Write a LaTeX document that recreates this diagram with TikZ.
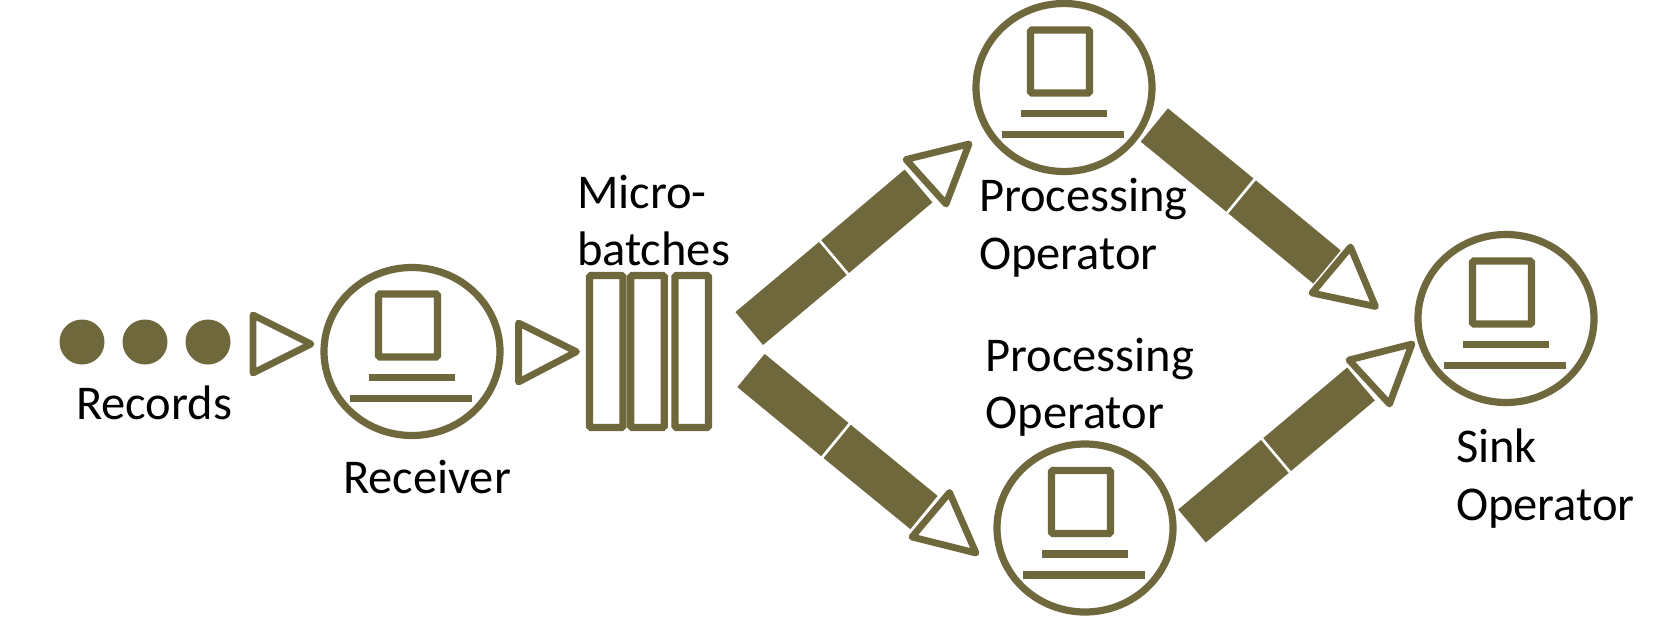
\documentclass[tikz,border=0pt]{standalone}
\usepackage{fontspec}
\setmainfont{Carlito}
\usetikzlibrary{shapes.geometric}
\definecolor{olive}{HTML}{6F683D}
\tikzset{
  outline/.style={draw=olive,line width=7.2pt,fill=white,inner sep=0pt,outer sep=0pt},
  disc/.style={outline,ellipse,minimum width=176pt,minimum height=168pt},
  screen/.style={outline,rounded corners=1.5pt,minimum width=59pt,minimum height=63pt},
  slab/.style={fill=olive,inner sep=0pt,outer sep=0pt,minimum height=7.6pt},
  record/.style={circle,fill=olive,inner sep=0pt,outer sep=0pt,minimum size=45pt},
  batch/.style={outline,rounded corners=1.5pt,minimum width=33.5pt,minimum height=152pt},
  head/.style={draw=olive,line width=6.8pt,line join=round,fill=white},
  bar/.style={draw=olive,line width=43pt},
  caption/.style={anchor=base west,inner sep=0pt,outer sep=0pt,text=black,font=\fontsize{48.5}{54}\selectfont},
  operator/.pic={
    \node[disc] (-body) at (0,0) {};
    \node[screen] (-screen) at (-4,-26) {};
    \node[slab,minimum width=86pt] (-upper) at (0,26) {};
    \node[slab,minimum width=122pt] (-lower) at (-1,47) {};
  }
}
% A thick two-piece bar with a thin cut where the pieces meet
\newcommand{\splitbar}[3]{%
  \draw[bar,shorten >=1.5pt] (#1) -- (#2);
  \draw[bar,shorten <=1.5pt] (#2) -- (#3);
}
\begin{document}
\begin{tikzpicture}[x=1pt,y=-1pt]
  \useasboundingbox (0,0) rectangle (1658,626);

  % incoming records
  \node[record] (r1) at (82,342) {};
  \node[record] (r2) at (145,342) {};
  \node[record] (r3) at (208,342) {};
  \draw[head] (253,315) -- (311,344) -- (253,373) -- cycle;
  \node[caption] (records) at (76,419.5) {Records};

  % operators
  \pic (recv) at (412,351.5) {operator};
  \pic (procA) at (1064,87.5) {operator};
  \pic (procB) at (1085,528) {operator};
  \pic (sink) at (1506,318.5) {operator};

  % micro-batch stack
  \draw[head] (518.6,323) -- (576.5,351.7) -- (518.6,382) -- cycle;
  \node[batch] (b1) at (606.2,351.5) {};
  \node[batch] (b2) at (647.5,351.5) {};
  \node[batch] (b3) at (691.7,351.5) {};

  % block arrows
  \coordinate (a1s) at (749.25,328.5);
  \coordinate (a1m) at (834,257.5);
  \coordinate (a1e) at (918.5,186);
  \coordinate (a2s) at (1154.3,125);
  \coordinate (a2m) at (1241,196);
  \coordinate (a2e) at (1327,267);
  \coordinate (a3s) at (751,370.5);
  \coordinate (a3m) at (836,440.5);
  \coordinate (a3e) at (924,512.5);
  \coordinate (a4s) at (1192,526);
  \coordinate (a4m) at (1276,455.5);
  \coordinate (a4e) at (1361,384);
  \splitbar{a1s}{a1m}{a1e}
  \splitbar{a2s}{a2m}{a2e}
  \splitbar{a3s}{a3m}{a3e}
  \splitbar{a4s}{a4m}{a4e}
  \draw[head] (969,144) -- (906,159.5) -- (946,204) -- cycle;
  \draw[head] (1375.5,306.5) -- (1350.5,247) -- (1312,293) -- cycle;
  \draw[head] (949.5,492.5) -- (976,553) -- (912,537) -- cycle;
  \draw[head] (1412,344) -- (1349,360) -- (1389.5,404) -- cycle;

  % labels
  \node[caption] (lrecv) at (343,493) {Receiver};
  \node[caption] (lmicro) at (577,208) {Micro-};
  \node[caption] (lbatch) at (577,265.5) {batches};
  \node[caption] (lpa1) at (979,211) {Processing};
  \node[caption] (lpa2) at (979,269.5) {Operator};
  \node[caption] (lpb1) at (985.5,371) {Processing};
  \node[caption] (lpb2) at (985.5,428.5) {Operator};
  \node[caption] (ls1) at (1456,462) {Sink};
  \node[caption] (ls2) at (1456,520) {Operator};
\end{tikzpicture}
\end{document}
